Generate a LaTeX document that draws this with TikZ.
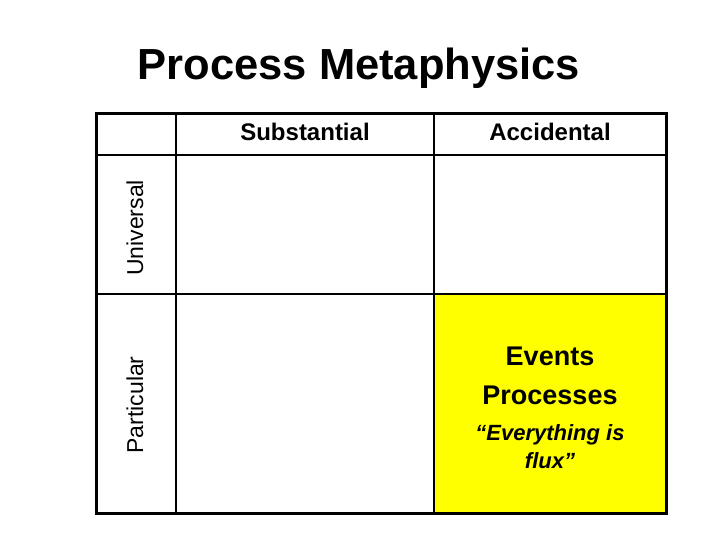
\documentclass[tikz,border=0pt]{standalone}
\usepackage{fontspec}
\setmainfont{Liberation Sans}
\usetikzlibrary{positioning}
\definecolor{fluxyellow}{RGB}{255,255,0}

\begin{document}
\begin{tikzpicture}[x=1pt, y=-1pt,
  thin rule/.style={line width=2.2pt},
  frame rule/.style={line width=3pt, line cap=rect},
  title/.style={font=\fontsize{43.5}{50}\selectfont\bfseries, anchor=base},
  colhead/.style={font=\fontsize{24}{28}\selectfont\bfseries, anchor=base},
  rowhead/.style={font=\fontsize{23}{27}\selectfont, anchor=base, rotate=90},
  cellbig/.style={font=\fontsize{27}{32}\selectfont\bfseries, anchor=base},
  cellquote/.style={font=\fontsize{22}{26}\selectfont\bfseries\itshape, anchor=base}]
\useasboundingbox (0,0) rectangle (720,540);
% table corners and rules
\coordinate (tl) at (96,114);
\coordinate (br) at (666,513);
\coordinate (c1) at (176,114);
\coordinate (c2) at (434,114);
\coordinate (r1) at (96,155);
\coordinate (r2) at (96,294);
\fill[fluxyellow] (c2 |- r2) rectangle (br);
\draw[thin rule] (c1) -- (c1 |- br);
\draw[thin rule] (c2) -- (c2 |- br);
\draw[thin rule] (r1) -- (r1 -| br);
\draw[thin rule] (r2) -- (r2 -| br);
\draw[frame rule] (tl) rectangle (br);
% labels
\node[title] (heading) at (359,80) {Process Metaphysics};
\node[colhead] (subst) at (305,141) {Substantial};
\node[colhead] (accid) at (550,141) {Accidental};
\node[rowhead] (univ) at (143,228) {Universal};
\node[rowhead] (partic) at (143,405) {Particular};
\node[cellbig] (events) at (550,365) {Events};
\node[cellbig] (procs) at (550,404) {Processes};
\node[cellquote] (flux1) at (550,440) {“Everything is};
\node[cellquote] (flux2) at (550,468) {flux”};
\end{tikzpicture}
\end{document}
